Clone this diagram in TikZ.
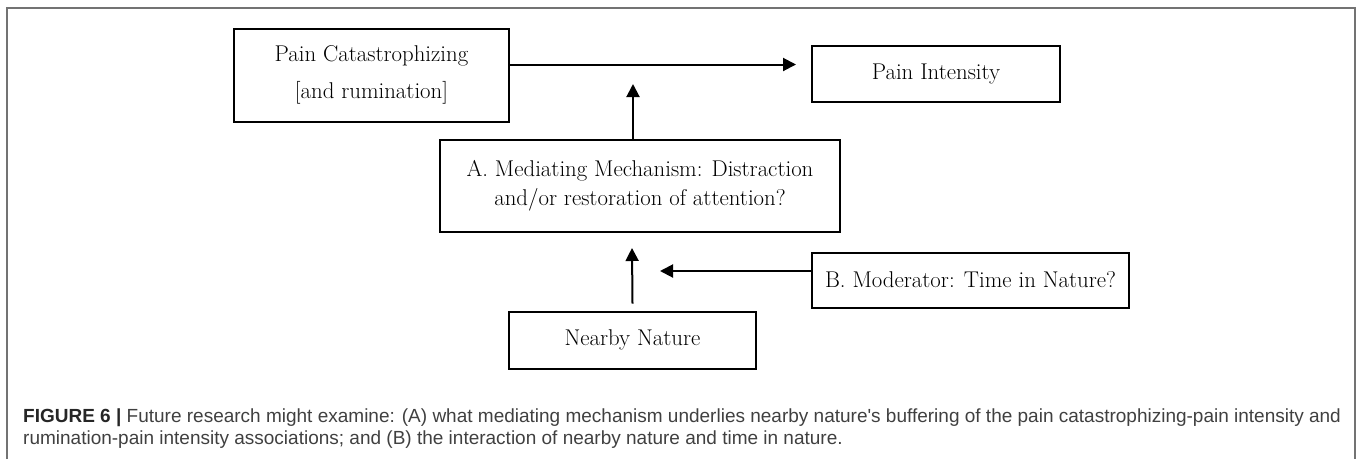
\documentclass[tikz,border=0pt]{standalone}
\usepackage{fontspec}
\newfontfamily\capfont{Liberation Sans}
\usetikzlibrary{arrows.meta}
\begin{document}
\begin{tikzpicture}[x=1pt,y=-1pt,
  box/.style={draw=black, line width=2pt, inner sep=0pt, align=center,
    font=\fontsize{22.8}{29}\selectfont},
  arr/.style={line width=2pt, -{Triangle[length=13pt,width=13pt]}},
  captxt/.style={anchor=base west, inner sep=0pt, text=black!75,
    font=\capfont\fontsize{19}{22}\selectfont}]
\useasboundingbox (0,0) rectangle (1357,459);
% frame
\draw[black!55, line width=1.5pt] (7,459) -- (7,8) -- (1355,8) -- (1355,459);
% boxes
\node[box, minimum width=275pt, minimum height=93pt,
  font=\fontsize{22.8}{37}\selectfont] (PC) at (371.5,75) {Pain Catastrophizing\\{[and rumination]}};
\node[box, minimum width=248pt, minimum height=56pt] (PI) at (936,74) {Pain Intensity};
\node[box, minimum width=400pt, minimum height=92pt] (Med) at (640,186)
  {A. Mediating Mechanism: Distraction\\and/or restoration of attention?};
\node[box, minimum width=317pt, minimum height=55pt] (B) at (970.5,280) {B. Moderator: Time in Nature?};
\node[box, minimum width=247pt, minimum height=57pt] (NN) at (632.5,340) {Nearby Nature};
% connectors
\coordinate (t1) at ([yshift=10.5pt]PC.east);
\draw[arr, shorten >=15pt] (t1) -- (t1 -| PI.west);
\coordinate (mtip) at (633,84);
\draw[arr] (mtip |- Med.north) -- (mtip);
\coordinate (ntip) at (632,248);
\draw[arr] ([yshift=7pt]NN.north) -- (ntip);
\coordinate (btip) at (660,271);
\draw[arr] (btip -| B.west) -- (btip);
% caption
\node[captxt] (cap1) at (23,422) {\textbf{\color{black!85}FIGURE 6 |} Future research might examine: (A) what mediating mechanism underlies nearby nature's buffering of the pain catastrophizing-pain intensity and};
\node[captxt] (cap2) at (23,444) {rumination-pain intensity associations; and (B) the interaction of nearby nature and time in nature.};
\end{tikzpicture}
\end{document}
